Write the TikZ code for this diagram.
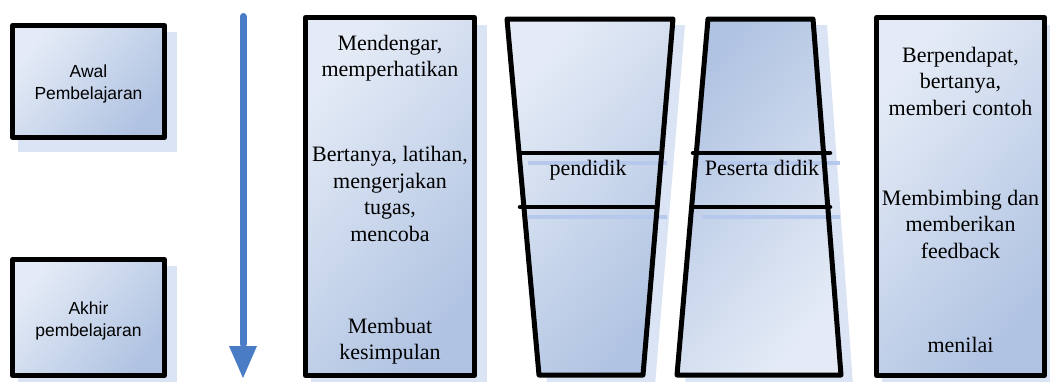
\documentclass[tikz,border=0pt]{standalone}
\usepackage{fontspec}
\newfontfamily\serifbox{Liberation Serif}
\newfontfamily\sansbox{Liberation Sans}
\usetikzlibrary{calc}
\definecolor{gLight}{RGB}{228,235,246}
\definecolor{gDark}{RGB}{176,195,226}
\definecolor{shadowc}{RGB}{219,228,245}
\definecolor{lineshadowc}{RGB}{182,201,236}
\definecolor{arrowc}{RGB}{74,124,198}
\tikzset{
  panel/.style={draw=black, line width=5pt, line join=round, top color=gLight, bottom color=gDark, shading angle=50},
  panelflip/.style={draw=black, line width=5pt, line join=round, top color=gDark, bottom color=gLight, shading angle=50},
  boxnode/.style={panel, inner sep=0pt},
  shadowfill/.style={fill=shadowc, draw=none},
  lineshadow/.style={draw=lineshadowc, line width=3.5pt},
  outline/.style={draw=black, line width=5pt, line join=round},
  divider/.style={draw=black, line width=4.5pt, line cap=round},
  sanslabel/.style={font=\sansbox\fontsize{17.5}{22}\selectfont, align=center, inner sep=0pt},
  seriflabel/.style={font=\serifbox\fontsize{22}{26.5}\selectfont, align=center, inner sep=0pt},
}
\begin{document}
\begin{tikzpicture}[x=1pt,y=1pt]
\useasboundingbox (0,0) rectangle (1050,-381);
% ---- shadows ----
\fill[shadowfill] (18,-32) rectangle (177,-152);
\fill[shadowfill] (18,-266) rectangle (177,-388);
\fill[shadowfill] (311,-25) rectangle (487,-390);
\fill[shadowfill] (882,-25) rectangle (1057,-390);
\fill[shadowfill] (515,-25) -- (685,-25) -- (655,-385) -- (547,-385) -- cycle;
\fill[shadowfill] (716,-25) -- (827,-25) -- (853,-385) -- (685,-385) -- cycle;
% ---- left boxes ----
\node[boxnode, minimum width=152pt, minimum height=112pt] (awal) at (88.5,-81.5) {};
\node[sanslabel] (awaltext) at (88.5,-83.5) {Awal\\Pembelajaran};
\node[boxnode, minimum width=152pt, minimum height=116pt] (akhir) at (88.5,-317.5) {};
\node[sanslabel] (akhirtext) at (88.5,-321) {Akhir\\pembelajaran};
% ---- arrow ----
\coordinate (arrowtop) at (243,-16.5);
\coordinate (arrowneck) at (243,-346);
\coordinate (arrowtip) at (243,-378);
\draw[arrowc, line width=7pt, line cap=round] (arrowtop) -- ($(arrowneck)+(0,2)$);
\fill[arrowc] ($(arrowneck)+(-14,0)$) -- ($(arrowneck)+(14,0)$) -- (arrowtip) -- cycle;
% ---- student activity box ----
\node[boxnode, minimum width=169pt, minimum height=358pt] (siswa) at (390,-196.5) {};
\node[seriflabel] (s1) at (390,-58) {Mendengar,\\memperhatikan};
\node[seriflabel] (s2) at (390,-194) {Bertanya, latihan,\\mengerjakan\\tugas,\\mencoba};
\node[seriflabel] (s3) at (390,-341) {Membuat\\kesimpulan};
% ---- teacher trapezium ----
\coordinate (pA) at (507,-19); \coordinate (pB) at (673,-19);
\coordinate (pC) at (643,-375); \coordinate (pD) at (539,-375);
\shade[panel, draw=none] (pA) -- (pB) -- (pC) -- (pD) -- cycle;
\draw[lineshadow] (528,-163) -- (667,-163);
\draw[lineshadow] (528,-217) -- (667,-217);
\draw[outline] (pA) -- (pB) -- (pC) -- (pD) -- cycle;
\draw[divider] (520,-153) -- (658,-153);
\draw[divider] (520,-207) -- (657,-207);
\node[seriflabel] (pendidik) at (588,-170) {pendidik};
% ---- learner trapezium ----
\coordinate (qA) at (708,-19); \coordinate (qB) at (813,-19);
\coordinate (qC) at (841,-375); \coordinate (qD) at (677,-375);
\shade[panelflip, draw=none] (qA) -- (qB) -- (qC) -- (qD) -- cycle;
\draw[lineshadow] (702,-163) -- (840,-163);
\draw[lineshadow] (702,-217) -- (840,-217);
\draw[outline] (qA) -- (qB) -- (qC) -- (qD) -- cycle;
\draw[divider] (693,-153) -- (830,-153);
\draw[divider] (693,-207) -- (830,-207);
\node[seriflabel] (peserta) at (762,-167.5) {Peserta didik};
% ---- teacher activity box ----
\node[boxnode, minimum width=168pt, minimum height=358pt] (guru) at (960.5,-196.5) {};
\node[seriflabel] (g1) at (960.5,-81) {Berpendapat,\\bertanya,\\memberi contoh};
\node[seriflabel] (g2) at (960.5,-224) {Membimbing dan\\memberikan\\feedback};
\node[seriflabel] (g3) at (960.5,-344.5) {menilai};
\end{tikzpicture}
\end{document}
